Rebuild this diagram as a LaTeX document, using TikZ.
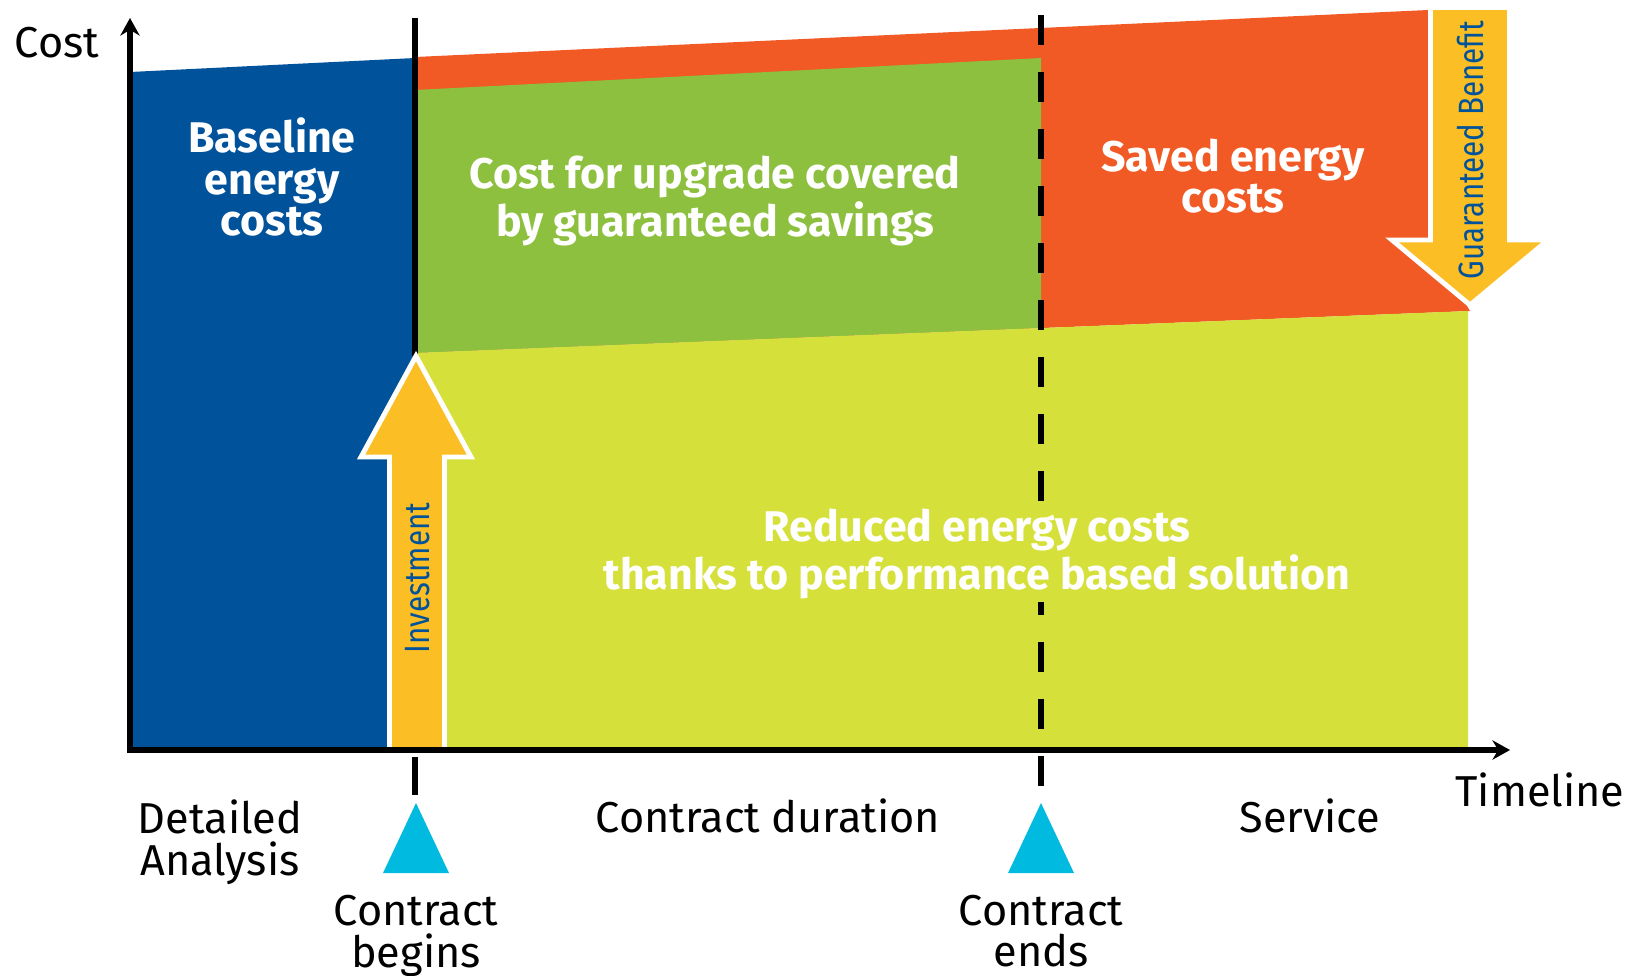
\documentclass[tikz,border=0pt]{standalone}
\usepackage{fontspec}
\setmainfont{Fira Sans}
\usetikzlibrary{arrows.meta}
\definecolor{baseblue}{RGB}{0,82,155}
\definecolor{savedorange}{RGB}{241,90,36}
\definecolor{upgradegreen}{RGB}{141,192,62}
\definecolor{reducedlime}{RGB}{214,224,58}
\definecolor{arrowyellow}{RGB}{251,190,36}
\definecolor{markcyan}{RGB}{0,186,224}
\tikzset{
  bigarrow/.style={fill=arrowyellow, draw=white, line width=1.4pt, line join=miter},
  whitetext/.style={text=white, font=\fontsize{12.2}{11.8}\selectfont\bfseries, align=center},
  axislabel/.style={font=\fontsize{12.3}{11.8}\selectfont, align=center, inner sep=0pt},
  arrowtext/.style={text=baseblue, rotate=90, font=\fontsize{10}{10}\selectfont},
}
\begin{document}
\begin{tikzpicture}[x=0.01cm, y=-0.01cm, line width=1.7pt]
\useasboundingbox (0,0) rectangle (1625,975);
% regions
\fill[baseblue] (130,72)--(415,58)--(415,750)--(130,750)--cycle;
\fill[savedorange] (415,57)--(1428,10)--(1428,240)--(1470,311)--(415,353)--cycle;
\fill[upgradegreen] (415,90)--(1041,58)--(1041,328)--(415,353)--cycle;
\fill[reducedlime] (415,353)--(1468,311)--(1468,750)--(415,750)--cycle;

% contract lines
\draw (415,18)--(415,356);
\draw (415,757)--(415,795);
\draw[dash pattern=on 8.5pt off 7.7pt] (1041,15)--(1041,790);

% investment and benefit arrows
\draw[bigarrow] (389.5,750)--(389.5,457)--(361,457)--(416,356)--(471,457)--(444.5,457)--(444.5,750);
\draw[bigarrow] (1430.5,10)--(1430.5,240)--(1392,240)--(1470,305)--(1548,240)--(1509.5,240)--(1509.5,10);

% axes
\draw[<->, >={Stealth[length=5pt,width=5.5pt]}] (130,18)--(130,750)--(1510,750);

\foreach \x in {416, 1041}
{
    \fill[markcyan] (\x-33,873)--(\x,803)--(\x+33,873)--cycle;
}

\node[whitetext] (baseline) at (272,177) {Baseline\\energy\\costs};
\node[whitetext] (upgrade) at (715,201) {Cost for upgrade covered\\by guaranteed savings};
\node[whitetext] (saved) at (1233,176) {Saved energy\\costs};
\node[whitetext, fill=reducedlime, inner sep=1pt] (reduced) at (977,554) {Reduced energy costs\\thanks to performance based solution};
\node[arrowtext] (investment) at (418,578) {\scalebox{0.84}[1]{Investment}};
\node[arrowtext] (benefit) at (1470,150) {\scalebox{0.84}[1]{Guaranteed Benefit}};

\node[axislabel, anchor=base west] (cost) at (12,57) {Cost};
\node[axislabel, anchor=base] (timeline) at (1540,806) {Timeline};
\node[axislabel] (analysis) at (220,842) {Detailed\\Analysis};
\node[axislabel, anchor=base] (duration) at (768,832) {Contract duration};
\node[axislabel, anchor=base] (service) at (1310,832) {Service};
\node[axislabel] (begins) at (416,936) {Contract\\begins};
\node[axislabel] (ends) at (1041,931) {Contract\\ends};
\end{tikzpicture}
\end{document}
